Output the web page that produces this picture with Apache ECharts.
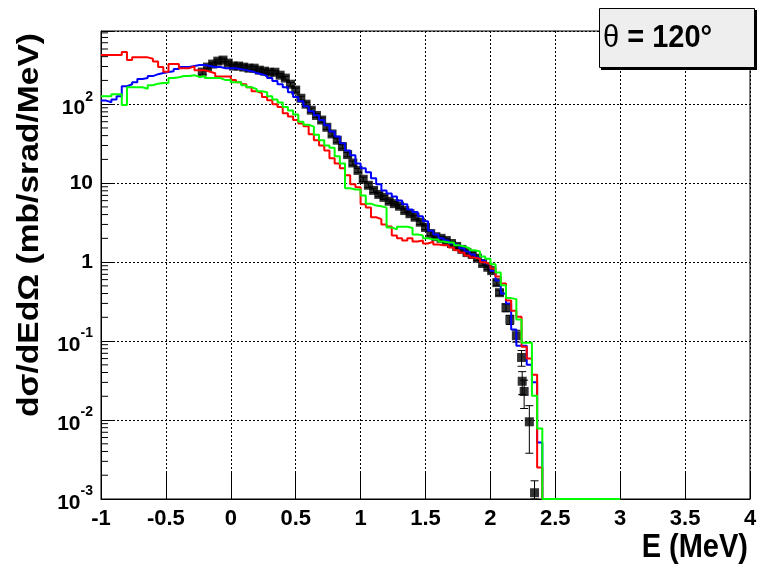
<!DOCTYPE html>
<html>
<head>
<meta charset="utf-8">
<script src="https://cdn.jsdelivr.net/npm/echarts@6/dist/echarts.min.js"></script>
<style>
  html, body { margin: 0; padding: 0; background: #ffffff; }
  #chart { width: 759px; height: 568px; }
</style>
</head>
<body>
<div id="chart"></div>
<script>
// Energy spectrum at theta = 120 deg: three model histograms + measured points.

// Histogram binning: 100 bins of 0.04 MeV starting at -1 MeV
const BIN_LOW = -1;
const BIN_WIDTH = 0.04;

// Axis ranges
const X_MIN = -1, X_MAX = 4, X_STEP = 0.5;
const Y_MIN = 0.001, Y_MAX = 845;

// Model histogram contents (mb/srad/MeV), one value per bin
const calcBlue = [
  111, 106, 115, 126, 169, 179, 190, 208, 214, 227,
  240, 248, 255, 262, 278, 295, 295, 304, 313, 313,
  304, 295, 295, 286, 286, 286, 278, 270, 262, 248,
  240, 227, 214, 196, 179, 164, 142, 123, 109, 94,
  81.5, 72.5, 63, 54, 45, 39, 32, 26, 22.5, 17.8,
  15.4, 13.7, 11.5, 9.7, 8.1, 7.4, 6.8, 6.05, 5.4, 4.65,
  4.3, 3.8, 3.3, 2.5, 2.24, 2.0, 1.88, 1.72, 1.63, 1.5,
  1.36, 1.25, 1.14, 1.05, 0.96, 0.78, 0.585, 0.40, 0.30, 0.14,
  0.087, 0.087, 0.05, 0.03, 0.0052, 0, 0, 0, 0, 0,
  0, 0, 0, 0, 0, 0, 0, 0, 0, 0
];

const calcRed = [
  420, 420, 420, 420, 457, 362, 392, 392, 392, 376,
  348, 295, 258, 322, 322, 286, 286, 301, 270, 270,
  258, 247, 224, 224, 224, 202, 190, 179, 164, 146,
  138, 123, 112, 100, 92, 77, 70, 63, 57, 52.5,
  41.6, 35, 30, 26, 20.6, 17.8, 15.4, 12.6, 9.7, 8.9,
  5.4, 4.9, 3.7, 3.5, 3.0, 2.83, 2.18, 2.0, 1.88, 2.0,
  1.82, 1.88, 1.72, 1.82, 1.67, 1.63, 1.63, 1.53, 1.41, 1.32,
  1.21, 1.14, 1.1, 0.995, 0.94, 0.83, 0.656, 0.535, 0.326, 0.243,
  0.204, 0.085, 0.06, 0.0375, 0.0025, 0, 0, 0, 0, 0,
  0, 0, 0, 0, 0, 0, 0, 0, 0, 0
];

const calcGreen = [
  126, 126, 134, 134, 98, 164, 164, 164, 157, 174,
  182, 185, 185, 214, 220, 227, 227, 233, 220, 227,
  214, 214, 214, 202, 202, 190, 190, 174, 164, 155,
  146, 142, 126, 115, 105, 92, 83, 74, 60, 55,
  52, 41, 35, 30, 28, 21.9, 17.8, 8.6, 8.3, 8.3,
  7.0, 5.5, 5.2, 5.1, 4.9, 2.75, 2.6, 2.8, 2.8, 2.7,
  2.24, 2.18, 2.0, 1.94, 1.94, 1.82, 1.77, 1.77, 1.63, 1.58,
  1.5, 1.41, 1.36, 1.18, 1.10, 0.94, 0.74, 0.51, 0.35, 0.34,
  0.187, 0.095, 0.095, 0.0203, 0.0078, 0, 0, 0, 0, 0,
  0, 0, 0, 0, 0, 0, 0, 0, 0, 0
];

// Measured cross sections: energy (MeV), value and error (mb/srad/MeV)
const dataE = [
  -0.22, -0.18, -0.14, -0.10, -0.06, -0.02, 0.02, 0.06, 0.10, 0.14,
  0.18, 0.22, 0.26, 0.30, 0.34, 0.38, 0.42, 0.46, 0.50, 0.54,
  0.58, 0.62, 0.66, 0.70, 0.74, 0.78, 0.82, 0.86, 0.90, 0.94,
  0.98, 1.02, 1.06, 1.10, 1.14, 1.18, 1.22, 1.26, 1.30, 1.34,
  1.38, 1.42, 1.46, 1.50, 1.54, 1.58, 1.62, 1.66, 1.70, 1.74,
  1.78, 1.82, 1.86, 1.90, 1.94, 1.98, 2.01, 2.05, 2.07, 2.12,
  2.15, 2.20, 2.24, 2.245, 2.26, 2.30, 2.34
];
const dataSigma = [
  255, 295, 322, 351, 362, 331, 304, 304, 295, 286,
  286, 270, 262, 254, 254, 233, 214, 179, 151, 119,
  100, 84, 72, 63, 51, 42, 35, 29, 23, 18,
  14.5, 11.2, 9.4, 8.1, 7.2, 6.6, 5.9, 5.5, 5.1, 4.5,
  4.1, 3.7, 3.2, 2.75, 2.3, 2.1, 2.0, 1.88, 1.72, 1.58,
  1.45, 1.32, 1.25, 1.12, 0.96, 0.86, 0.78, 0.55, 0.41, 0.265,
  0.187, 0.117, 0.062, 0.031, 0.023, 0.0095, 0.0012
];
const dataErr = [
  15, 17, 18, 20, 20, 19, 17, 17, 17, 16,
  16, 15, 15, 14, 14, 13, 12, 10, 9, 7,
  6, 5, 4, 4, 3, 2.5, 2, 1.7, 1.4, 1.1,
  0.9, 0.7, 0.6, 0.5, 0.45, 0.4, 0.36, 0.33, 0.3, 0.28,
  0.25, 0.23, 0.2, 0.17, 0.14, 0.13, 0.12, 0.12, 0.11, 0.1,
  0.09, 0.08, 0.08, 0.07, 0.06, 0.055, 0.05, 0.04, 0.03, 0.03,
  0.025, 0.02, 0.014, 0.01, 0.009, 0.0057, 0.0005
];

// Decade exponents that carry y labels
const yDecades = [-3, -2, -1, 0, 1, 2];

const FONT = '"Liberation Sans", Arial, Helvetica, sans-serif';

// Outline of a histogram as step points (bin low edges + closing edge)
function histPoints(values) {
  const pts = values.map((v, k) => [+(BIN_LOW + k * BIN_WIDTH).toFixed(4), Math.max(v, Y_MIN)]);
  const last = values[values.length - 1];
  pts.push([+(BIN_LOW + values.length * BIN_WIDTH).toFixed(4), Math.max(last, Y_MIN)]);
  return pts;
}

// Logarithmic minor ticks (2..9 x decade) inside the y range
const yMinor = [];
for (let d = -3; d <= 2; d++) {
  for (let m = 2; m <= 9; m++) {
    const v = m * Math.pow(10, d);
    if (v < Y_MAX) yMinor.push([X_MIN, v]);
  }
}

function histSeries(name, values, color) {
  return {
    name: name,
    type: 'line',
    step: 'end',
    data: histPoints(values),
    showSymbol: false,
    symbol: 'none',
    clip: false,
    silent: true,
    lineStyle: { color: color, width: 2 },
    itemStyle: { color: color },
    z: 3
  };
}

const gridDots = { color: '#000', width: 1, type: [2, 2] };

const chart = echarts.init(document.getElementById('chart'), null, { renderer: 'canvas' });

chart.setOption({
  animation: false,
  backgroundColor: '#ffffff',
  textStyle: { fontFamily: FONT },
  grid: {
    left: 101, right: 9, top: 31, bottom: 69,
    containLabel: false,
    outerBoundsMode: 'none',
    show: true,
    borderColor: '#000',
    borderWidth: 1,
    backgroundColor: 'transparent'
  },
  xAxis: {
    type: 'value',
    min: X_MIN, max: X_MAX, interval: X_STEP,
    axisLine: { show: true, onZero: false, lineStyle: { color: '#000', width: 1 } },
    axisTick: { show: true, inside: true, length: 26, lineStyle: { color: '#000', width: 1 } },
    splitLine: { show: true, lineStyle: gridDots },
    axisLabel: {
      color: '#000', fontSize: 22, fontWeight: 'bold', fontFamily: FONT, margin: 9,
      hideOverlap: false
    }
  },
  yAxis: {
    type: 'log',
    logBase: 10,
    min: Y_MIN, max: Y_MAX,
    axisLine: { show: true, onZero: false, lineStyle: { color: '#000', width: 1 } },
    axisTick: { show: true, inside: true, length: 13, lineStyle: { color: '#000', width: 1 } },
    splitLine: { show: true, lineStyle: gridDots },
    axisLabel: {
      margin: 8,
      hideOverlap: false,
      formatter: function (value) {
        const e = Math.log10(value);
        const n = Math.round(e);
        if (Math.abs(e - n) > 1e-6 || yDecades.indexOf(n) < 0) return '';
        if (n === 0) return '{p|1}';
        if (n === 1) return '{p|10}';
        return '{b|10}{s|' + n + '}';
      },
      rich: {
        p: { fontSize: 21, fontWeight: 'bold', color: '#000', fontFamily: FONT },
        b: { fontSize: 21, fontWeight: 'bold', color: '#000', fontFamily: FONT, padding: [8, 0, 0, 0] },
        s: { fontSize: 14, fontWeight: 'bold', color: '#000', fontFamily: FONT, verticalAlign: 'top' }
      }
    }
  },
  graphic: [
    {
      type: 'text', x: 748, y: 548, scaleY: 1.12,
      style: {
        text: 'E (MeV)', font: 'bold 29px ' + FONT, fill: '#000',
        align: 'right', verticalAlign: 'middle'
      }
    },
    {
      type: 'text', x: 30, y: 33, rotation: Math.PI / 2, scaleX: 1.12,
      style: {
        text: 'dσ/dEdΩ (mb/srad/MeV)', font: 'bold 30px ' + FONT, fill: '#000',
        align: 'right', verticalAlign: 'middle'
      }
    },
    {
      type: 'rect', shape: { x: 601, y: 10, width: 156, height: 60 },
      style: { fill: '#000' }, z: 10
    },
    {
      type: 'rect', shape: { x: 599.5, y: 8.5, width: 155, height: 59 },
      style: { fill: '#eeeeee', stroke: '#000', lineWidth: 1 }, z: 11
    },
    {
      type: 'text', x: 603, y: 38, scaleY: 1.1, z: 12,
      style: {
        text: '{th|θ}{b| = 120°}',
        align: 'left', verticalAlign: 'middle',
        rich: {
          th: { fontSize: 29, fontWeight: 'normal', fill: '#000', fontFamily: FONT },
          b: { fontSize: 29, fontWeight: 'bold', fill: '#000', fontFamily: FONT }
        }
      }
    }
  ],
  series: [
    {
      name: 'y minor ticks',
      type: 'custom',
      silent: true,
      clip: false,
      data: yMinor,
      z: 4,
      renderItem: function (params, api) {
        const p = api.coord([api.value(0), api.value(1)]);
        return {
          type: 'line',
          shape: { x1: p[0], y1: p[1], x2: p[0] + 7, y2: p[1] },
          style: { stroke: '#000', lineWidth: 1 }
        };
      }
    },
    {
      name: 'data errors',
      type: 'custom',
      silent: true,
      clip: false,
      data: dataE.map((e, i) => [e, dataSigma[i], dataErr[i]]),
      z: 2,
      renderItem: function (params, api) {
        const x = api.value(0), y = api.value(1), err = api.value(2);
        const lo = api.coord([x, Math.max(y - err, Y_MIN)]);
        const hi = api.coord([x, y + err]);
        const half = 4;
        const st = { stroke: '#000', lineWidth: 1 };
        return {
          type: 'group',
          children: [
            { type: 'line', shape: { x1: lo[0], y1: lo[1], x2: hi[0], y2: hi[1] }, style: st },
            { type: 'line', shape: { x1: lo[0] - half, y1: lo[1], x2: lo[0] + half, y2: lo[1] }, style: st },
            { type: 'line', shape: { x1: hi[0] - half, y1: hi[1], x2: hi[0] + half, y2: hi[1] }, style: st }
          ]
        };
      }
    },
    {
      name: 'data',
      type: 'scatter',
      symbol: 'rect',
      symbolSize: 9,
      silent: true,
      clip: false,
      data: dataE.map((e, i) => [e, dataSigma[i]]),
      itemStyle: { color: '#000' },
      z: 2
    },
    histSeries('blue', calcBlue, '#0000ff'),
    histSeries('red', calcRed, '#ff0000'),
    histSeries('green', calcGreen, '#00ff00')
  ]
});
</script>
</body>
</html>
